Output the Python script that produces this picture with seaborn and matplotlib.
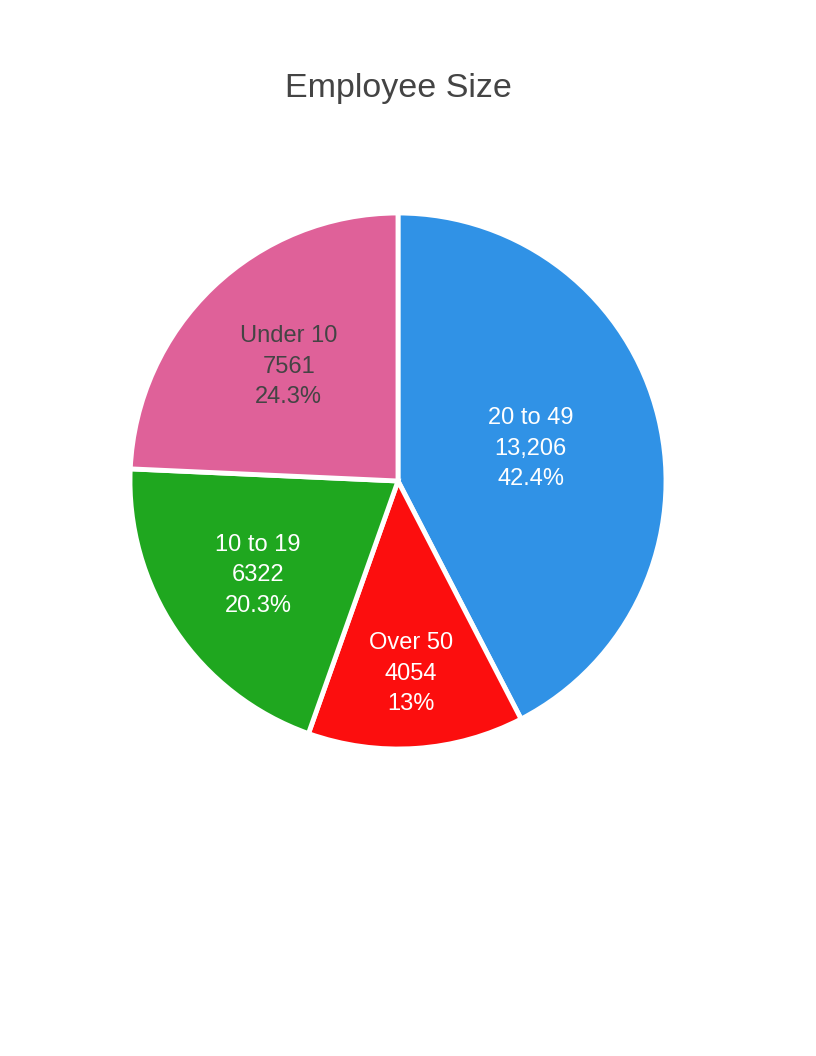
import matplotlib
matplotlib.use("Agg")
import matplotlib.pyplot as plt
import numpy as np
import seaborn as sns

# slices in drawing order, clockwise from 12 o'clock
categories = ["20 to 49", "Over 50", "10 to 19", "Under 10"]
counts = [13206, 4054, 6322, 7561]
colors = ["#3092E6", "#FC0E0E", "#1FA71F", "#DF6199"]
text_colors = ["white", "white", "white", "#444444"]
# how far along the radius each inside label sits
label_radius = [0.51, 0.72, 0.63, 0.59]

sns.set_theme(style="white")
plt.rcParams["font.family"] = ["Liberation Sans", "DejaVu Sans"]

W, H = 816, 1056
fig = plt.figure(figsize=(W / 100, H / 100), dpi=100)
fig.patch.set_facecolor("white")

cx, cy, r = 398, 481, 268
ax = fig.add_axes([(cx - r) / W, (H - cy - r) / H, 2 * r / W, 2 * r / H])
wedges, _ = ax.pie(
    counts,
    colors=colors,
    startangle=90,
    counterclock=False,
    radius=1,
    wedgeprops=dict(edgecolor="white", linewidth=3.5, clip_on=False),
)
ax.set_xlim(-1, 1)
ax.set_ylim(-1, 1)
ax.set_aspect("equal")
ax.axis("off")

total = sum(counts)
for w, name, v, tc, lr in zip(wedges, categories, counts, text_colors, label_radius):
    mid = np.deg2rad((w.theta1 + w.theta2) / 2)
    vtxt = f"{v:,}" if v >= 10000 else str(v)
    pct = f"{100 * v / total:.3g}%"
    ax.text(lr * np.cos(mid), lr * np.sin(mid), f"{name}\n{vtxt}\n{pct}",
            ha="center", va="center", color=tc, fontsize=17, linespacing=1.5)

fig.text(398 / W, 1 - 88 / H, "Employee Size", ha="center", va="center",
         fontsize=24.5, color="#444444")

fig.savefig("out.png", dpi=100, facecolor="white")
